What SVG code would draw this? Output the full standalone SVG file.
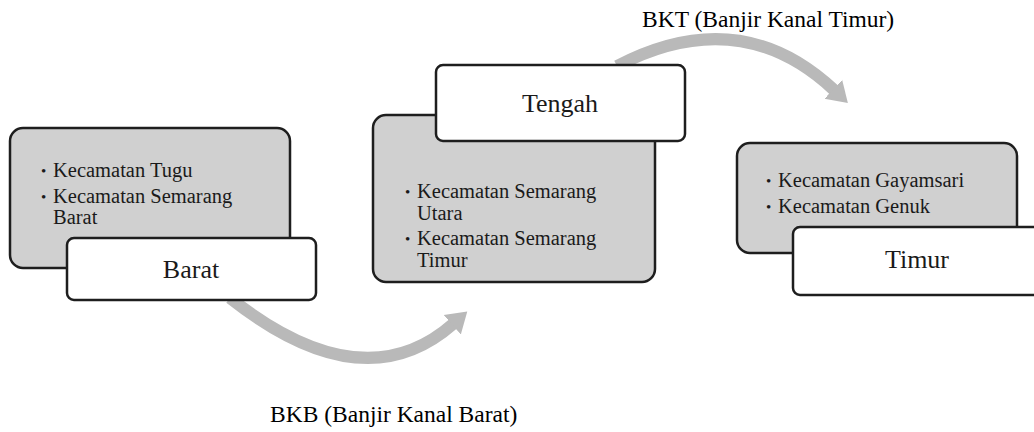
<svg xmlns="http://www.w3.org/2000/svg" width="1034" height="432" viewBox="0 0 1034 432">
<style>
.gray{fill:#d0d0d0;stroke:#1e1e1e;stroke-width:2.5}
.white{fill:#ffffff;stroke:#1e1e1e;stroke-width:2.5}
.t{font-family:"Liberation Serif","Tinos","Times New Roman","DejaVu Serif",serif;fill:#1a1a1a}
.b{font-size:20.5px}
.bul{font-size:15px}
.h{font-size:26px;text-anchor:middle}
.lbl{font-size:23.5px;fill:#000}
.arc{fill:none;stroke:#b9b9b9;stroke-width:12;marker-end:url(#ah)}
</style>
<defs>
<marker id="ah" markerWidth="21" markerHeight="28" refX="1" refY="14" orient="auto" markerUnits="userSpaceOnUse">
<path d="M0,1 L20,14 L0,27 z" fill="#b9b9b9"/>
</marker>
</defs>
<rect width="1034" height="432" fill="#ffffff"/>
<g id="connectors">
<path class="arc" d="M230,298 Q363,403 453,324"/>
<path class="arc" d="M617,66 Q740,2 834,90"/>
</g>
<g id="barat" font-family="Liberation Serif, serif">
<rect class="gray" x="10" y="128" width="280" height="140" rx="13"/>
<text class="t bul" x="41" y="176">•</text>
<text class="t b" x="53" y="177">Kecamatan Tugu</text>
<text class="t bul" x="41" y="202">•</text>
<text class="t b" x="53" y="203">Kecamatan Semarang</text>
<text class="t b" x="53" y="224">Barat</text>
<rect class="white" x="67" y="238" width="249" height="62" rx="7"/>
<text class="t h" x="191" y="278">Barat</text>
</g>
<g id="tengah" font-family="Liberation Serif, serif">
<rect class="gray" x="373" y="115" width="282" height="167" rx="13"/>
<text class="t bul" x="405" y="197">•</text>
<text class="t b" x="417" y="198">Kecamatan Semarang</text>
<text class="t b" x="417" y="220">Utara</text>
<text class="t bul" x="405" y="244">•</text>
<text class="t b" x="417" y="245">Kecamatan Semarang</text>
<text class="t b" x="417" y="267">Timur</text>
<rect class="white" x="436" y="65" width="249" height="76" rx="7"/>
<text class="t h" x="560" y="112">Tengah</text>
</g>
<g id="timur" font-family="Liberation Serif, serif">
<rect class="gray" x="737" y="143" width="280" height="110" rx="13"/>
<text class="t bul" x="766" y="186">•</text>
<text class="t b" x="778" y="187">Kecamatan Gayamsari</text>
<text class="t bul" x="766" y="212">•</text>
<text class="t b" x="778" y="213">Kecamatan Genuk</text>
<rect class="white" x="793" y="227" width="250" height="68" rx="7"/>
<text class="t h" x="917" y="268">Timur</text>
</g>
<g id="labels" font-family="Liberation Serif, serif">
<text class="t lbl" x="642" y="27">BKT (Banjir Kanal Timur)</text>
<text class="t lbl" x="270" y="422">BKB (Banjir Kanal Barat)</text>
</g>
</svg>
